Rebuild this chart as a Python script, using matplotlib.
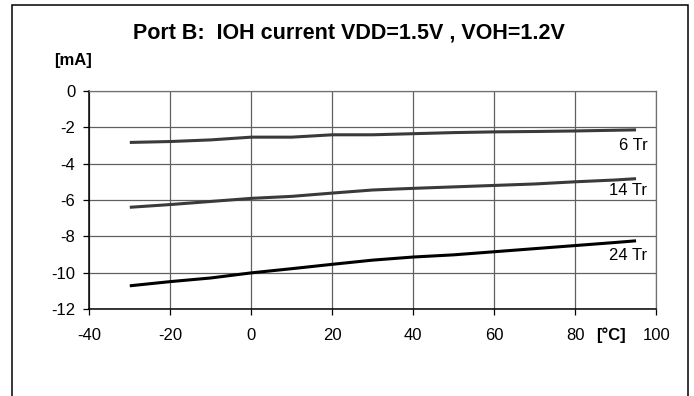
import matplotlib

matplotlib.use("Agg")

import matplotlib.pyplot as plt
from matplotlib.patches import Rectangle

plt.rcParams["font.family"] = ["Liberation Sans", "DejaVu Sans"]
plt.rcParams["axes.unicode_minus"] = False

TEMPERATURES = [-30, -20, -10, 0, 10, 20, 30, 40, 50, 60, 70, 80, 90, 95]
IOH_6TR = [-2.84, -2.79, -2.70, -2.55, -2.55, -2.42, -2.42, -2.36, -2.30, -2.26, -2.24, -2.21, -2.17, -2.15]
IOH_14TR = [-6.40, -6.25, -6.08, -5.91, -5.80, -5.62, -5.45, -5.36, -5.28, -5.20, -5.12, -5.00, -4.90, -4.83]
IOH_24TR = [-10.71, -10.48, -10.28, -10.00, -9.77, -9.53, -9.30, -9.13, -9.01, -8.84, -8.67, -8.50, -8.33, -8.24]
SERIES = [
    ("6 Tr", IOH_6TR, "#3a3a3a", -3.03),
    ("14 Tr", IOH_14TR, "#3a3a3a", -5.50),
    ("24 Tr", IOH_24TR, "#000000", -9.06),
]
X_TICKS = [-40, -20, 0, 20, 40, 60, 80, 100]
Y_TICKS = [0, -2, -4, -6, -8, -10, -12]


def main():
    fig = plt.figure(figsize=(6.94, 3.96), dpi=100)
    fig.patch.set_facecolor("white")
    fig.patches.append(
        Rectangle((12.3 / 694, -0.1), 676 / 694, 1.1 - 4.5 / 396, transform=fig.transFigure,
                  fill=False, edgecolor="black", linewidth=1.1)
    )
    ax = fig.add_axes([89.3 / 694, 86.7 / 396, 567 / 694, 218.6 / 396])
    for name, values, color, label_y in SERIES:
        ax.plot(TEMPERATURES, values, color=color, linewidth=2.2, solid_capstyle="butt")
        ax.text(97.8, label_y, name, ha="right", va="center", fontsize=12)
    ax.set_xlim(-40, 100)
    ax.set_ylim(-12, 0)
    ax.set_xticks(X_TICKS)
    ax.set_yticks(Y_TICKS)
    ax.grid(True, color="#606060", linewidth=0.9)
    ax.set_axisbelow(True)
    for side in ("top", "right"):
        ax.spines[side].set_color("#707070")
        ax.spines[side].set_linewidth(0.9)
    for side in ("left", "bottom"):
        ax.spines[side].set_color("black")
        ax.spines[side].set_linewidth(1.1)
    ax.tick_params(axis="x", direction="out", length=4, width=0.9, pad=9.5, labelsize=12)
    ax.tick_params(axis="y", direction="out", length=4, width=0.9, pad=6, labelsize=12)
    fig.text(348.7 / 694, 1 - 33.5 / 396, "Port B:  IOH current VDD=1.5V , VOH=1.2V",
             ha="center", va="center", fontsize=15.5, fontweight="bold")
    fig.text(54 / 694, 1 - 61 / 396, "[mA]", ha="left", va="center", fontsize=12, fontweight="bold")
    fig.text(611 / 694, 1 - 335 / 396, "[°C]", ha="center", va="center", fontsize=12, fontweight="bold")
    fig.savefig("out.png", dpi=100, facecolor=fig.get_facecolor())
    plt.close(fig)


if __name__ == "__main__":
    main()
